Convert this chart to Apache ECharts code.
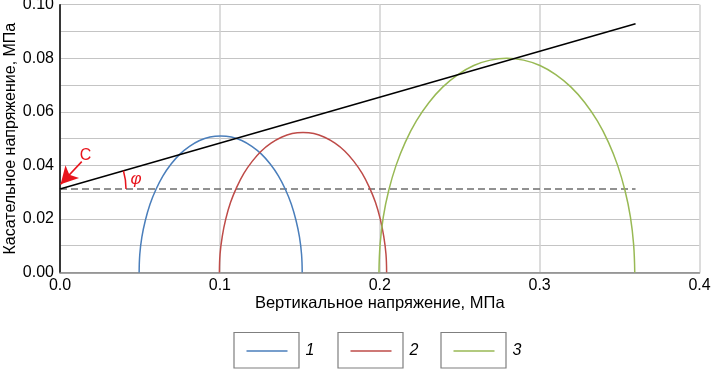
<!DOCTYPE html>
<html><head><meta charset="utf-8">
<script src="https://cdn.jsdelivr.net/npm/echarts@6/dist/echarts.min.js"></script>
<style>html,body{margin:0;padding:0;background:#fff}#c{width:711px;height:369px}</style>
</head><body><div id="c"></div>
<script>
// Mohr circle 1
var sigma1 = [0.0495,0.0499,0.0512,0.0534,0.0563,0.0600,0.0644,0.0695,0.0750,0.0810,0.0873,0.0938,0.1005,0.1072,0.1137,0.1200,0.1260,0.1315,0.1366,0.1410,0.1447,0.1476,0.1498,0.1511,0.1515];
var tau1   = [0,0.0067,0.0132,0.0195,0.0255,0.0310,0.0361,0.0405,0.0442,0.0471,0.0493,0.0506,0.0510,0.0506,0.0493,0.0471,0.0442,0.0405,0.0361,0.0310,0.0255,0.0195,0.0132,0.0067,0];
// Mohr circle 2
var sigma2 = [0.0997,0.1001,0.1015,0.1037,0.1067,0.1105,0.1150,0.1202,0.1258,0.1320,0.1385,0.1452,0.1520,0.1588,0.1655,0.1720,0.1782,0.1838,0.1890,0.1935,0.1973,0.2003,0.2025,0.2039,0.2043];
var tau2   = [0,0.0068,0.0135,0.0200,0.0262,0.0318,0.0370,0.0415,0.0453,0.0483,0.0505,0.0519,0.0523,0.0519,0.0505,0.0483,0.0453,0.0415,0.0370,0.0318,0.0262,0.0200,0.0135,0.0068,0];
// Mohr circle 3
var sigma3 = [0.1995,0.2002,0.2022,0.2056,0.2102,0.2160,0.2229,0.2308,0.2395,0.2489,0.2588,0.2691,0.2795,0.2899,0.3002,0.3101,0.3195,0.3282,0.3361,0.3430,0.3488,0.3534,0.3568,0.3588,0.3595];
var tau3   = [0,0.0104,0.0207,0.0306,0.0400,0.0487,0.0566,0.0635,0.0693,0.0739,0.0773,0.0793,0.0800,0.0793,0.0773,0.0739,0.0693,0.0635,0.0566,0.0487,0.0400,0.0306,0.0207,0.0104,0];
// Envelope line and cohesion level
var envX = [0, 0.36];
var envY = [0.0312, 0.0929];
var cohX = [0, 0.36];
var cohY = [0.0312, 0.0312];
// C arrow (start, tip)
var arrowX = [0.0136, 0.0004];
var arrowY = [0.0414, 0.0330];
var legendNames = ['1', '2', '3'];
var xTicks = [0, 0.1, 0.2, 0.3, 0.4];
var yTicks = [0, 0.02, 0.04, 0.06, 0.08, 0.10];

function pairs(xs, ys){ return xs.map(function(x,i){ return [x, ys[i]]; }); }

var RED = '#e8141c';
var FONT = 'Liberation Sans, Arial, sans-serif';
var colors = ['#4a7ebb', '#be4b48', '#98b954'];

var chart = echarts.init(document.getElementById('c'), null, {renderer:'canvas'});
var legendLefts = [246.5, 350.5, 453.5];
var option = {
  animation: false,
  backgroundColor: '#fff',
  grid: { left: 60, right: 11.5, top: 4.7, bottom: 96.5, containLabel: false, outerBoundsMode: 'none' },
  xAxis: {
    type: 'value', min: xTicks[0], max: xTicks[xTicks.length-1], interval: 0.1,
    name: 'Вертикальное напряжение, МПа', nameLocation: 'middle', nameGap: 22, nameMoveOverlap: false,
    nameTextStyle: { fontFamily: FONT, fontSize: 16.5, color: '#000' },
    axisLine: { onZero: false, lineStyle: { color: '#868686', width: 1.5 } },
    axisTick: { show: false },
    axisLabel: { fontFamily: FONT, fontSize: 16, color: '#000', margin: 5, formatter: function(v){ return v.toFixed(1); } },
    splitLine: { show: true, lineStyle: { color: '#d0d0d0', width: 1.5 } }
  },
  yAxis: {
    type: 'value', min: yTicks[0], max: yTicks[yTicks.length-1], interval: 0.02,
    name: 'Касательное напряжение, МПа', nameLocation: 'middle', nameGap: 41, nameMoveOverlap: false,
    nameTextStyle: { fontFamily: FONT, fontSize: 16, color: '#000' },
    axisLine: { show: true, onZero: false, lineStyle: { color: '#000', width: 1.5 } },
    axisTick: { show: false },
    axisLabel: { fontFamily: FONT, fontSize: 16, color: '#000', margin: 6, formatter: function(v){ return v.toFixed(2); } },
    splitLine: { show: true, lineStyle: { color: '#c4c4c4', width: 1 } },
    minorTick: { show: false, splitNumber: 2 },
    minorSplitLine: { show: true, lineStyle: { color: '#c4c4c4', width: 1 } }
  },
  legend: legendNames.map(function(n, i){
    return {
      data: [n], left: legendLefts[i], top: 341, padding: 0,
      icon: 'rect', itemWidth: 41, itemHeight: 1.5, selectedMode: false,
      textStyle: { fontFamily: FONT, fontSize: 16, fontStyle: 'italic', color: '#000', lineHeight: 20, padding: [0,0,0,13] }
    };
  }),
  series: [
    { name: legendNames[0], type: 'line', data: pairs(sigma1, tau1), symbol: 'none', smooth: 0.4, lineStyle: { color: colors[0], width: 1.5 }, itemStyle: { color: colors[0] }, z: 3 },
    { name: legendNames[1], type: 'line', data: pairs(sigma2, tau2), symbol: 'none', smooth: 0.4, lineStyle: { color: colors[1], width: 1.5 }, itemStyle: { color: colors[1] }, z: 3 },
    { name: legendNames[2], type: 'line', data: pairs(sigma3, tau3), symbol: 'none', smooth: 0.4, lineStyle: { color: colors[2], width: 1.5 }, itemStyle: { color: colors[2] }, z: 3 },
    { name: 'envelope', type: 'line', data: pairs(envX, envY), symbol: 'none', lineStyle: { color: '#000', width: 1.5 }, z: 4,
      markLine: {
        silent: true, symbol: ['none', 'arrow'], symbolSize: [14, 17],
        lineStyle: { color: RED, width: 1.5, type: 'solid' }, label: { show: false },
        data: [[ { coord: [arrowX[0], arrowY[0]] }, { coord: [arrowX[1], arrowY[1]] } ]]
      }
    },
    { name: 'cohesion', type: 'line', data: pairs(cohX, cohY), symbol: 'none', lineStyle: { color: '#6e6e6e', width: 1.5, type: [7, 4] }, z: 2 }
  ]
};
chart.setOption(option);

// annotations placed via the chart's own coordinate conversion
var p0 = chart.convertToPixel({gridIndex:0}, [envX[0], envY[0]]);
var p1 = chart.convertToPixel({gridIndex:0}, [envX[1], envY[1]]);
var ang = Math.atan2(p0[1] - p1[1], p1[0] - p0[0]);
var cPos = chart.convertToPixel({gridIndex:0}, [0.0159, 0.0438]);
var phiPos = chart.convertToPixel({gridIndex:0}, [0.0475, 0.0349]);
var R = 66;
chart.setOption({
  graphic: [
    { type: 'arc', shape: { cx: p0[0], cy: p0[1], r: R, startAngle: -ang, endAngle: 0, clockwise: true }, style: { stroke: RED, fill: null, lineWidth: 1.5 }, z: 10 },
    { type: 'text', x: cPos[0], y: cPos[1], style: { text: 'C', fill: RED, font: '16px ' + FONT, align: 'center', verticalAlign: 'middle' }, z: 10 },
    { type: 'text', x: phiPos[0], y: phiPos[1], style: { text: 'φ', fill: RED, font: 'italic 17px ' + FONT, align: 'center', verticalAlign: 'middle' }, z: 10 },
    { type: 'rect', shape: { x: 234, y: 332.5, width: 65, height: 35.5 }, style: { stroke: '#7f7f7f', fill: null, lineWidth: 1.2 } },
    { type: 'rect', shape: { x: 338, y: 332.5, width: 65, height: 35.5 }, style: { stroke: '#7f7f7f', fill: null, lineWidth: 1.2 } },
    { type: 'rect', shape: { x: 441, y: 332.5, width: 65, height: 35.5 }, style: { stroke: '#7f7f7f', fill: null, lineWidth: 1.2 } }
  ]
});
</script></body></html>
